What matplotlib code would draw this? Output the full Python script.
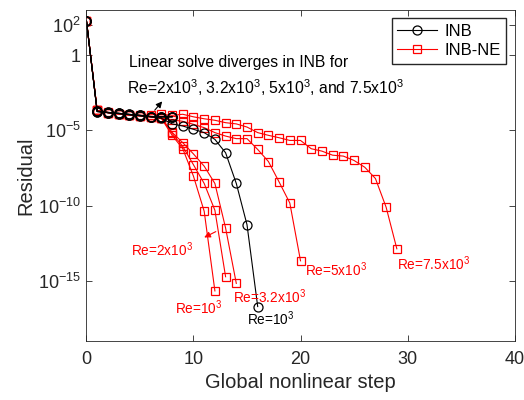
import numpy as np
import matplotlib
matplotlib.use('Agg')
from matplotlib import pyplot as plt
from matplotlib.ticker import FixedLocator, FixedFormatter, NullLocator

plt.rcParams['font.family'] = ['Liberation Sans', 'DejaVu Sans']

# log10 of residual
inb_1000 = [2.27, -3.75, -3.82, -3.87, -3.95, -4.0, -4.09, -4.2, -4.57, -4.71,
            -4.93, -5.15, -5.6, -6.49, -8.53, -11.27, -16.71]
# INB runs that diverge after step 8 (Re = 2e3, 3.2e3, 5e3, 7.5e3)
inb_div = [
    [2.27, -3.72, -3.8, -3.86, -3.93, -4.0, -4.08, -4.09, -4.09],
    [2.27, -3.73, -3.81, -3.87, -3.94, -4.01, -4.08, -4.1, -4.1],
    [2.27, -3.74, -3.82, -3.88, -3.95, -4.02, -4.09, -4.09, -4.08],
    [2.27, -3.75, -3.83, -3.89, -3.96, -4.03, -4.1, -4.11, -4.1],
]
ne_1000 = [2.27, -3.67, -3.82, -3.9, -3.97, -4.03, -4.1, -4.2, -5.33, -6.22,
           -8.05, -10.38, -15.67]
ne_2000 = [2.27, -3.67, -3.82, -3.9, -3.97, -4.03, -4.1, -4.18, -5.2, -6.07,
           -7.29, -8.53, -10.31, -14.73]
ne_3200 = [2.27, -3.67, -3.82, -3.9, -3.97, -4.03, -4.08, -4.15, -5.13, -5.82,
           -6.57, -7.38, -8.53, -11.49, -15.17]
ne_5000 = [2.27, -3.67, -3.82, -3.9, -3.97, -4.03, -4.1, -4.2, -4.3, -4.4,
           -4.6, -4.82, -5.15, -5.38, -5.55, -5.55, -6.27, -7.07, -8.43, -9.83,
           -13.67]
ne_7500 = [2.27, -3.67, -3.8, -3.9, -3.97, -4.0, -3.97, -3.93, -4.0, -3.93,
           -4.1, -4.23, -4.33, -4.49, -4.57, -4.78, -5.15, -5.33, -5.49, -5.67,
           -5.67, -6.22, -6.38, -6.65, -6.71, -7.0, -7.45, -8.2, -10.11, -12.87]

yticks = [1e-15, 1e-10, 1e-5, 1, 1e2]
ytick_labels = [r'10$^{\mathregular{-15}}$', r'10$^{\mathregular{-10}}$',
                r'10$^{\mathregular{-5}}$', '1', r'10$^{\mathregular{2}}$']
xticks = [0, 10, 20, 30, 40]


def px(x_px, y_px):
    # pixel position -> data coords
    return (x_px - 86.5) / 10.7, 10 ** (3 - (y_px - 11) / 15)


fig = plt.figure(figsize=(5.24, 4), dpi=100)
ax = fig.add_axes([0.165, 0.1475, 0.817, 0.8275])

red_kw = dict(color='red', marker='s', mfc='none', ms=5.5, lw=0.8, mew=0.9)
blk_kw = dict(color='black', marker='o', mfc='none', ms=6.5, lw=0.8, mew=0.9)

for s in [ne_1000, ne_2000, ne_3200, ne_5000, ne_7500]:
    hr, = ax.plot(np.arange(len(s)), 10 ** np.array(s), **red_kw)
for s in inb_div:
    ax.plot(np.arange(len(s)), 10 ** np.array(s), **blk_kw)
hb, = ax.plot(np.arange(len(inb_1000)), 10 ** np.array(inb_1000), **blk_kw)

ax.set_yscale('log')
ax.set_xlim(0, 40)
ax.set_ylim(1e-19, 1e3)
ax.yaxis.set_major_locator(FixedLocator(yticks))
ax.yaxis.set_major_formatter(FixedFormatter(ytick_labels))
ax.yaxis.set_minor_locator(NullLocator())
ax.set_xticks(xticks)
ax.tick_params(direction='in', top=True, right=True, labelsize=13,
               colors='#262626', length=4, width=0.6)
ax.tick_params(axis='x', pad=7)
ax.tick_params(axis='y', pad=4)
for sp in ax.spines.values():
    sp.set_linewidth(0.6)
    sp.set_color('#262626')
ax.set_xlabel('Global nonlinear step', fontsize=14.5, color='#262626',
              labelpad=4)
ax.set_ylabel('Residual', fontsize=14.5, color='#262626', labelpad=2)

ax.legend([hb, hr], ['INB', 'INB-NE'], loc='upper right', fontsize=12,
          fancybox=False, edgecolor='#262626', framealpha=1,
          borderaxespad=0.5, handlelength=2.4, borderpad=0.35,
          labelspacing=0.25, handletextpad=0.4)

ax.text(*px(129, 63), 'Linear solve diverges in INB for', fontsize=11.3,
        va='center', ha='left')
ax.text(*px(127, 88), r'Re=2x10$^{\mathregular{3}}$, 3.2x10$^{\mathregular{3}}$, '
        r'5x10$^{\mathregular{3}}$, and 7.5x10$^{\mathregular{3}}$', fontsize=11.3,
        va='center', ha='left')
ax.annotate('', xy=px(164, 100), xytext=px(153, 113),
            arrowprops=dict(arrowstyle='-|>', color='black', lw=0.8,
                            mutation_scale=9))
ax.annotate('', xy=px(201.7, 239), xytext=px(218.3, 230.7),
            arrowprops=dict(arrowstyle='-|>', color='red', lw=0.8,
                            mutation_scale=9))

lab = dict(fontsize=9.8, va='center', ha='left')
ax.text(*px(175, 308), r'Re=10$^{\mathregular{3}}$', color='red', **lab)
ax.text(*px(131, 250), r'Re=2x10$^{\mathregular{3}}$', color='red', **lab)
ax.text(*px(233, 297), r'Re=3.2x10$^{\mathregular{3}}$', color='red', **lab)
ax.text(*px(247, 319), r'Re=10$^{\mathregular{3}}$', color='black', **lab)
ax.text(*px(305, 270), r'Re=5x10$^{\mathregular{3}}$', color='red', **lab)
ax.text(*px(397, 264), r'Re=7.5x10$^{\mathregular{3}}$', color='red', **lab)

plt.savefig('out.png')
